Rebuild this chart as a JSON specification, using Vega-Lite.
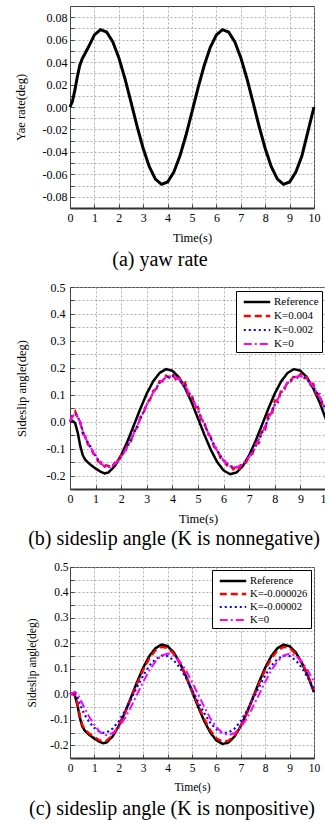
{
"$schema": "https://vega.github.io/schema/vega-lite/v6.json",
"background": "white",
"padding": {"left": 13, "top": 5, "right": 0, "bottom": 0},
"spacing": 10,
"resolve": {"scale": {"color": "independent", "strokeDash": "independent", "strokeWidth": "independent", "x": "independent", "y": "independent"}, "legend": {"color": "independent", "strokeDash": "independent"}},
"config": {
 "font": "Liberation Serif",
 "view": {"stroke": "#444", "strokeWidth": 1},
 "axis": {"labelFont": "Liberation Serif", "labelFontSize": 12, "labelColor": "black", "titleFont": "Liberation Serif", "titleFontSize": 12.5, "titleFontWeight": "normal", "titleColor": "black", "gridColor": "#999", "gridDash": [2, 2], "gridWidth": 0.8, "domainColor": "#444", "tickColor": "#444", "tickSize": -4, "labelFlush": false, "labelOverlap": false},
 "title": {"font": "Liberation Serif", "fontSize": 20, "fontWeight": "normal", "color": "black"},
 "legend": {"orient": "top-right", "offset": 4, "strokeColor": "black", "strokeWidth": 1, "fillColor": "white", "padding": 3, "labelFont": "Liberation Serif", "labelFontSize": 11, "labelColor": "black", "symbolType": "M-2,0H2", "symbolSize": 175, "symbolStrokeWidth": 2, "symbolOffset": 10, "rowPadding": 1, "labelOffset": 9, "cornerRadius": 0}
},
"datasets": {
 "a": [
  {"t":0,"v":0},{"t":0.1,"v":0.005},{"t":0.2,"v":0.015},{"t":0.3,"v":0.027},{"t":0.4,"v":0.037},{"t":0.5,"v":0.043},{"t":0.6,"v":0.047},{"t":0.75,"v":0.0532},{"t":1,"v":0.0642},{"t":1.25,"v":0.0689},{"t":1.5,"v":0.0668},{"t":1.75,"v":0.0583},{"t":2,"v":0.044},{"t":2.25,"v":0.0254},{"t":2.5,"v":0.0043},{"t":2.75,"v":-0.0172},{"t":3,"v":-0.037},{"t":3.25,"v":-0.0532},{"t":3.5,"v":-0.0642},{"t":3.75,"v":-0.0689},{"t":4,"v":-0.0668},{"t":4.25,"v":-0.0583},{"t":4.5,"v":-0.044},{"t":4.75,"v":-0.0254},{"t":5,"v":-0.0043},{"t":5.25,"v":0.0172},{"t":5.5,"v":0.037},{"t":5.75,"v":0.0532},{"t":6,"v":0.0642},{"t":6.25,"v":0.0689},{"t":6.5,"v":0.0668},{"t":6.75,"v":0.0583},{"t":7,"v":0.044},{"t":7.25,"v":0.0254},{"t":7.5,"v":0.0043},{"t":7.75,"v":-0.0172},{"t":8,"v":-0.037},{"t":8.25,"v":-0.0532},{"t":8.5,"v":-0.0642},{"t":8.75,"v":-0.0689},{"t":9,"v":-0.0668},{"t":9.25,"v":-0.0583},{"t":9.5,"v":-0.044},{"t":9.75,"v":-0.022},{"t":10,"v":0}
 ],
 "b": [
  {"t":0,"v":0,"s":"Reference"},{"t":0.1,"v":0.003,"s":"Reference"},{"t":0.2,"v":-0.005,"s":"Reference"},{"t":0.3,"v":-0.04,"s":"Reference"},{"t":0.4,"v":-0.09,"s":"Reference"},{"t":0.5,"v":-0.125,"s":"Reference"},{"t":0.6,"v":-0.142,"s":"Reference"},{"t":0.8,"v":-0.16,"s":"Reference"},{"t":1,"v":-0.174,"s":"Reference"},{"t":1.2,"v":-0.186,"s":"Reference"},{"t":1.35,"v":-0.192,"s":"Reference"},{"t":1.5,"v":-0.189,"s":"Reference"},{"t":1.75,"v":-0.165,"s":"Reference"},{"t":2,"v":-0.124,"s":"Reference"},{"t":2.25,"v":-0.072,"s":"Reference"},{"t":2.5,"v":-0.012,"s":"Reference"},{"t":2.75,"v":0.0485,"s":"Reference"},{"t":3,"v":0.1045,"s":"Reference"},{"t":3.25,"v":0.15,"s":"Reference"},{"t":3.5,"v":0.181,"s":"Reference"},{"t":3.75,"v":0.195,"s":"Reference"},{"t":4,"v":0.189,"s":"Reference"},{"t":4.25,"v":0.165,"s":"Reference"},{"t":4.5,"v":0.124,"s":"Reference"},{"t":4.75,"v":0.072,"s":"Reference"},{"t":5,"v":0.012,"s":"Reference"},{"t":5.25,"v":-0.0485,"s":"Reference"},{"t":5.5,"v":-0.1045,"s":"Reference"},{"t":5.75,"v":-0.15,"s":"Reference"},{"t":6,"v":-0.181,"s":"Reference"},{"t":6.25,"v":-0.195,"s":"Reference"},{"t":6.5,"v":-0.189,"s":"Reference"},{"t":6.75,"v":-0.165,"s":"Reference"},{"t":7,"v":-0.124,"s":"Reference"},{"t":7.25,"v":-0.072,"s":"Reference"},{"t":7.5,"v":-0.012,"s":"Reference"},{"t":7.75,"v":0.0485,"s":"Reference"},{"t":8,"v":0.1045,"s":"Reference"},{"t":8.25,"v":0.15,"s":"Reference"},{"t":8.5,"v":0.181,"s":"Reference"},{"t":8.75,"v":0.195,"s":"Reference"},{"t":9,"v":0.189,"s":"Reference"},{"t":9.25,"v":0.165,"s":"Reference"},{"t":9.5,"v":0.124,"s":"Reference"},{"t":9.75,"v":0.072,"s":"Reference"},{"t":10,"v":0.008,"s":"Reference"},
  {"t":0,"v":0,"s":"K=0.004"},{"t":0.1,"v":0.025,"s":"K=0.004"},{"t":0.2,"v":0.038,"s":"K=0.004"},{"t":0.3,"v":0.015,"s":"K=0.004"},{"t":0.4,"v":0,"s":"K=0.004"},{"t":0.5,"v":-0.045,"s":"K=0.004"},{"t":0.6,"v":-0.055,"s":"K=0.004"},{"t":0.7,"v":-0.085,"s":"K=0.004"},{"t":0.8,"v":-0.092,"s":"K=0.004"},{"t":0.9,"v":-0.118,"s":"K=0.004"},{"t":1,"v":-0.125,"s":"K=0.004"},{"t":1.1,"v":-0.148,"s":"K=0.004"},{"t":1.2,"v":-0.15,"s":"K=0.004"},{"t":1.3,"v":-0.17,"s":"K=0.004"},{"t":1.4,"v":-0.162,"s":"K=0.004"},{"t":1.5,"v":-0.164,"s":"K=0.004"},{"t":1.625,"v":-0.172,"s":"K=0.004"},{"t":1.75,"v":-0.152,"s":"K=0.004"},{"t":1.875,"v":-0.152,"s":"K=0.004"},{"t":2,"v":-0.125,"s":"K=0.004"},{"t":2.125,"v":-0.118,"s":"K=0.004"},{"t":2.25,"v":-0.085,"s":"K=0.004"},{"t":2.375,"v":-0.074,"s":"K=0.004"},{"t":2.5,"v":-0.036,"s":"K=0.004"},{"t":2.625,"v":-0.022,"s":"K=0.004"},{"t":2.75,"v":0.017,"s":"K=0.004"},{"t":2.875,"v":0.031,"s":"K=0.004"},{"t":3,"v":0.069,"s":"K=0.004"},{"t":3.125,"v":0.081,"s":"K=0.004"},{"t":3.25,"v":0.114,"s":"K=0.004"},{"t":3.375,"v":0.122,"s":"K=0.004"},{"t":3.5,"v":0.15,"s":"K=0.004"},{"t":3.625,"v":0.15,"s":"K=0.004"},{"t":3.75,"v":0.171,"s":"K=0.004"},{"t":3.875,"v":0.163,"s":"K=0.004"},{"t":4,"v":0.178,"s":"K=0.004"},{"t":4.125,"v":0.158,"s":"K=0.004"},{"t":4.25,"v":0.17,"s":"K=0.004"},{"t":4.375,"v":0.134,"s":"K=0.004"},{"t":4.5,"v":0.145,"s":"K=0.004"},{"t":4.625,"v":0.098,"s":"K=0.004"},{"t":4.75,"v":0.105,"s":"K=0.004"},{"t":4.875,"v":0.054,"s":"K=0.004"},{"t":5,"v":0.054,"s":"K=0.004"},{"t":5.125,"v":0.006,"s":"K=0.004"},{"t":5.25,"v":-0.003,"s":"K=0.004"},{"t":5.375,"v":-0.043,"s":"K=0.004"},{"t":5.5,"v":-0.057,"s":"K=0.004"},{"t":5.625,"v":-0.093,"s":"K=0.004"},{"t":5.75,"v":-0.102,"s":"K=0.004"},{"t":5.875,"v":-0.134,"s":"K=0.004"},{"t":6,"v":-0.138,"s":"K=0.004"},{"t":6.125,"v":-0.162,"s":"K=0.004"},{"t":6.25,"v":-0.159,"s":"K=0.004"},{"t":6.375,"v":-0.177,"s":"K=0.004"},{"t":6.5,"v":-0.162,"s":"K=0.004"},{"t":6.625,"v":-0.174,"s":"K=0.004"},{"t":6.75,"v":-0.152,"s":"K=0.004"},{"t":6.875,"v":-0.152,"s":"K=0.004"},{"t":7,"v":-0.125,"s":"K=0.004"},{"t":7.125,"v":-0.12,"s":"K=0.004"},{"t":7.25,"v":-0.081,"s":"K=0.004"},{"t":7.375,"v":-0.08,"s":"K=0.004"},{"t":7.5,"v":-0.028,"s":"K=0.004"},{"t":7.625,"v":-0.03,"s":"K=0.004"},{"t":7.75,"v":0.027,"s":"K=0.004"},{"t":7.875,"v":0.021,"s":"K=0.004"},{"t":8,"v":0.079,"s":"K=0.004"},{"t":8.125,"v":0.073,"s":"K=0.004"},{"t":8.25,"v":0.118,"s":"K=0.004"},{"t":8.375,"v":0.12,"s":"K=0.004"},{"t":8.5,"v":0.15,"s":"K=0.004"},{"t":8.625,"v":0.15,"s":"K=0.004"},{"t":8.75,"v":0.171,"s":"K=0.004"},{"t":8.875,"v":0.163,"s":"K=0.004"},{"t":9,"v":0.176,"s":"K=0.004"},{"t":9.125,"v":0.16,"s":"K=0.004"},{"t":9.25,"v":0.166,"s":"K=0.004"},{"t":9.375,"v":0.138,"s":"K=0.004"},{"t":9.5,"v":0.141,"s":"K=0.004"},{"t":9.625,"v":0.102,"s":"K=0.004"},{"t":9.75,"v":0.103,"s":"K=0.004"},{"t":9.875,"v":0.056,"s":"K=0.004"},{"t":10,"v":0.052,"s":"K=0.004"},
  {"t":0,"v":0,"s":"K=0.002"},{"t":0.1,"v":0.02,"s":"K=0.002"},{"t":0.2,"v":0.03,"s":"K=0.002"},{"t":0.3,"v":0.02,"s":"K=0.002"},{"t":0.4,"v":-0.005,"s":"K=0.002"},{"t":0.5,"v":-0.035,"s":"K=0.002"},{"t":0.6,"v":-0.06,"s":"K=0.002"},{"t":0.8,"v":-0.095,"s":"K=0.002"},{"t":1,"v":-0.128,"s":"K=0.002"},{"t":1.2,"v":-0.155,"s":"K=0.002"},{"t":1.35,"v":-0.166,"s":"K=0.002"},{"t":1.5,"v":-0.17,"s":"K=0.002"},{"t":1.75,"v":-0.158,"s":"K=0.002"},{"t":2,"v":-0.131,"s":"K=0.002"},{"t":2.25,"v":-0.091,"s":"K=0.002"},{"t":2.5,"v":-0.042,"s":"K=0.002"},{"t":2.75,"v":0.011,"s":"K=0.002"},{"t":3,"v":0.063,"s":"K=0.002"},{"t":3.25,"v":0.108,"s":"K=0.002"},{"t":3.5,"v":0.144,"s":"K=0.002"},{"t":3.75,"v":0.165,"s":"K=0.002"},{"t":4,"v":0.17,"s":"K=0.002"},{"t":4.25,"v":0.158,"s":"K=0.002"},{"t":4.5,"v":0.131,"s":"K=0.002"},{"t":4.75,"v":0.091,"s":"K=0.002"},{"t":5,"v":0.042,"s":"K=0.002"},{"t":5.25,"v":-0.011,"s":"K=0.002"},{"t":5.5,"v":-0.063,"s":"K=0.002"},{"t":5.75,"v":-0.108,"s":"K=0.002"},{"t":6,"v":-0.144,"s":"K=0.002"},{"t":6.25,"v":-0.165,"s":"K=0.002"},{"t":6.5,"v":-0.17,"s":"K=0.002"},{"t":6.75,"v":-0.158,"s":"K=0.002"},{"t":7,"v":-0.131,"s":"K=0.002"},{"t":7.25,"v":-0.091,"s":"K=0.002"},{"t":7.5,"v":-0.042,"s":"K=0.002"},{"t":7.75,"v":0.011,"s":"K=0.002"},{"t":8,"v":0.063,"s":"K=0.002"},{"t":8.25,"v":0.108,"s":"K=0.002"},{"t":8.5,"v":0.144,"s":"K=0.002"},{"t":8.75,"v":0.165,"s":"K=0.002"},{"t":9,"v":0.17,"s":"K=0.002"},{"t":9.25,"v":0.158,"s":"K=0.002"},{"t":9.5,"v":0.131,"s":"K=0.002"},{"t":9.75,"v":0.091,"s":"K=0.002"},{"t":10,"v":0.042,"s":"K=0.002"},
  {"t":0,"v":0,"s":"K=0"},{"t":0.1,"v":0.02,"s":"K=0"},{"t":0.2,"v":0.03,"s":"K=0"},{"t":0.3,"v":0.02,"s":"K=0"},{"t":0.4,"v":-0.005,"s":"K=0"},{"t":0.5,"v":-0.035,"s":"K=0"},{"t":0.6,"v":-0.06,"s":"K=0"},{"t":0.8,"v":-0.095,"s":"K=0"},{"t":1,"v":-0.128,"s":"K=0"},{"t":1.2,"v":-0.155,"s":"K=0"},{"t":1.35,"v":-0.166,"s":"K=0"},{"t":1.5,"v":-0.17,"s":"K=0"},{"t":1.75,"v":-0.158,"s":"K=0"},{"t":2,"v":-0.131,"s":"K=0"},{"t":2.25,"v":-0.091,"s":"K=0"},{"t":2.5,"v":-0.042,"s":"K=0"},{"t":2.75,"v":0.011,"s":"K=0"},{"t":3,"v":0.063,"s":"K=0"},{"t":3.25,"v":0.108,"s":"K=0"},{"t":3.5,"v":0.144,"s":"K=0"},{"t":3.75,"v":0.165,"s":"K=0"},{"t":4,"v":0.17,"s":"K=0"},{"t":4.25,"v":0.158,"s":"K=0"},{"t":4.5,"v":0.131,"s":"K=0"},{"t":4.75,"v":0.091,"s":"K=0"},{"t":5,"v":0.042,"s":"K=0"},{"t":5.25,"v":-0.011,"s":"K=0"},{"t":5.5,"v":-0.063,"s":"K=0"},{"t":5.75,"v":-0.108,"s":"K=0"},{"t":6,"v":-0.144,"s":"K=0"},{"t":6.25,"v":-0.165,"s":"K=0"},{"t":6.5,"v":-0.17,"s":"K=0"},{"t":6.75,"v":-0.158,"s":"K=0"},{"t":7,"v":-0.131,"s":"K=0"},{"t":7.25,"v":-0.091,"s":"K=0"},{"t":7.5,"v":-0.042,"s":"K=0"},{"t":7.75,"v":0.011,"s":"K=0"},{"t":8,"v":0.063,"s":"K=0"},{"t":8.25,"v":0.108,"s":"K=0"},{"t":8.5,"v":0.144,"s":"K=0"},{"t":8.75,"v":0.165,"s":"K=0"},{"t":9,"v":0.17,"s":"K=0"},{"t":9.25,"v":0.158,"s":"K=0"},{"t":9.5,"v":0.131,"s":"K=0"},{"t":9.75,"v":0.091,"s":"K=0"},{"t":10,"v":0.042,"s":"K=0"}
 ],
 "c": [
  {"t":0,"v":0,"s":"Reference"},{"t":0.1,"v":0.003,"s":"Reference"},{"t":0.2,"v":-0.005,"s":"Reference"},{"t":0.3,"v":-0.04,"s":"Reference"},{"t":0.4,"v":-0.09,"s":"Reference"},{"t":0.5,"v":-0.125,"s":"Reference"},{"t":0.6,"v":-0.142,"s":"Reference"},{"t":0.8,"v":-0.16,"s":"Reference"},{"t":1,"v":-0.174,"s":"Reference"},{"t":1.2,"v":-0.186,"s":"Reference"},{"t":1.35,"v":-0.192,"s":"Reference"},{"t":1.5,"v":-0.189,"s":"Reference"},{"t":1.75,"v":-0.165,"s":"Reference"},{"t":2,"v":-0.124,"s":"Reference"},{"t":2.25,"v":-0.072,"s":"Reference"},{"t":2.5,"v":-0.012,"s":"Reference"},{"t":2.75,"v":0.0485,"s":"Reference"},{"t":3,"v":0.1045,"s":"Reference"},{"t":3.25,"v":0.15,"s":"Reference"},{"t":3.5,"v":0.181,"s":"Reference"},{"t":3.75,"v":0.195,"s":"Reference"},{"t":4,"v":0.189,"s":"Reference"},{"t":4.25,"v":0.165,"s":"Reference"},{"t":4.5,"v":0.124,"s":"Reference"},{"t":4.75,"v":0.072,"s":"Reference"},{"t":5,"v":0.012,"s":"Reference"},{"t":5.25,"v":-0.0485,"s":"Reference"},{"t":5.5,"v":-0.1045,"s":"Reference"},{"t":5.75,"v":-0.15,"s":"Reference"},{"t":6,"v":-0.181,"s":"Reference"},{"t":6.25,"v":-0.195,"s":"Reference"},{"t":6.5,"v":-0.189,"s":"Reference"},{"t":6.75,"v":-0.165,"s":"Reference"},{"t":7,"v":-0.124,"s":"Reference"},{"t":7.25,"v":-0.072,"s":"Reference"},{"t":7.5,"v":-0.012,"s":"Reference"},{"t":7.75,"v":0.0485,"s":"Reference"},{"t":8,"v":0.1045,"s":"Reference"},{"t":8.25,"v":0.15,"s":"Reference"},{"t":8.5,"v":0.181,"s":"Reference"},{"t":8.75,"v":0.195,"s":"Reference"},{"t":9,"v":0.189,"s":"Reference"},{"t":9.25,"v":0.165,"s":"Reference"},{"t":9.5,"v":0.124,"s":"Reference"},{"t":9.75,"v":0.072,"s":"Reference"},{"t":10,"v":0.008,"s":"Reference"},
  {"t":0,"v":0,"s":"K=-0.000026"},{"t":0.1,"v":0.004,"s":"K=-0.000026"},{"t":0.2,"v":-0.003,"s":"K=-0.000026"},{"t":0.3,"v":-0.035,"s":"K=-0.000026"},{"t":0.4,"v":-0.08,"s":"K=-0.000026"},{"t":0.5,"v":-0.118,"s":"K=-0.000026"},{"t":0.6,"v":-0.138,"s":"K=-0.000026"},{"t":0.8,"v":-0.155,"s":"K=-0.000026"},{"t":1,"v":-0.168,"s":"K=-0.000026"},{"t":1.2,"v":-0.18,"s":"K=-0.000026"},{"t":1.35,"v":-0.185,"s":"K=-0.000026"},{"t":1.5,"v":-0.182,"s":"K=-0.000026"},{"t":1.75,"v":-0.16,"s":"K=-0.000026"},{"t":2,"v":-0.123,"s":"K=-0.000026"},{"t":2.25,"v":-0.073,"s":"K=-0.000026"},{"t":2.5,"v":-0.016,"s":"K=-0.000026"},{"t":2.75,"v":0.042,"s":"K=-0.000026"},{"t":3,"v":0.096,"s":"K=-0.000026"},{"t":3.25,"v":0.141,"s":"K=-0.000026"},{"t":3.5,"v":0.172,"s":"K=-0.000026"},{"t":3.75,"v":0.186,"s":"K=-0.000026"},{"t":4,"v":0.182,"s":"K=-0.000026"},{"t":4.25,"v":0.16,"s":"K=-0.000026"},{"t":4.5,"v":0.123,"s":"K=-0.000026"},{"t":4.75,"v":0.073,"s":"K=-0.000026"},{"t":5,"v":0.016,"s":"K=-0.000026"},{"t":5.25,"v":-0.042,"s":"K=-0.000026"},{"t":5.5,"v":-0.096,"s":"K=-0.000026"},{"t":5.75,"v":-0.141,"s":"K=-0.000026"},{"t":6,"v":-0.172,"s":"K=-0.000026"},{"t":6.25,"v":-0.186,"s":"K=-0.000026"},{"t":6.5,"v":-0.182,"s":"K=-0.000026"},{"t":6.75,"v":-0.16,"s":"K=-0.000026"},{"t":7,"v":-0.123,"s":"K=-0.000026"},{"t":7.25,"v":-0.073,"s":"K=-0.000026"},{"t":7.5,"v":-0.016,"s":"K=-0.000026"},{"t":7.75,"v":0.042,"s":"K=-0.000026"},{"t":8,"v":0.096,"s":"K=-0.000026"},{"t":8.25,"v":0.141,"s":"K=-0.000026"},{"t":8.5,"v":0.172,"s":"K=-0.000026"},{"t":8.75,"v":0.186,"s":"K=-0.000026"},{"t":9,"v":0.182,"s":"K=-0.000026"},{"t":9.25,"v":0.16,"s":"K=-0.000026"},{"t":9.5,"v":0.123,"s":"K=-0.000026"},{"t":9.75,"v":0.073,"s":"K=-0.000026"},{"t":10,"v":0.016,"s":"K=-0.000026"},
  {"t":0,"v":0,"s":"K=-0.00002"},{"t":0.1,"v":0.004,"s":"K=-0.00002"},{"t":0.2,"v":0.006,"s":"K=-0.00002"},{"t":0.3,"v":-0.01,"s":"K=-0.00002"},{"t":0.4,"v":-0.035,"s":"K=-0.00002"},{"t":0.5,"v":-0.06,"s":"K=-0.00002"},{"t":0.6,"v":-0.08,"s":"K=-0.00002"},{"t":0.8,"v":-0.11,"s":"K=-0.00002"},{"t":1,"v":-0.132,"s":"K=-0.00002"},{"t":1.2,"v":-0.146,"s":"K=-0.00002"},{"t":1.35,"v":-0.151,"s":"K=-0.00002"},{"t":1.5,"v":-0.15,"s":"K=-0.00002"},{"t":1.75,"v":-0.134,"s":"K=-0.00002"},{"t":2,"v":-0.105,"s":"K=-0.00002"},{"t":2.25,"v":-0.065,"s":"K=-0.00002"},{"t":2.5,"v":-0.019,"s":"K=-0.00002"},{"t":2.75,"v":0.029,"s":"K=-0.00002"},{"t":3,"v":0.074,"s":"K=-0.00002"},{"t":3.25,"v":0.112,"s":"K=-0.00002"},{"t":3.5,"v":0.138,"s":"K=-0.00002"},{"t":3.75,"v":0.152,"s":"K=-0.00002"},{"t":4,"v":0.15,"s":"K=-0.00002"},{"t":4.25,"v":0.134,"s":"K=-0.00002"},{"t":4.5,"v":0.105,"s":"K=-0.00002"},{"t":4.75,"v":0.065,"s":"K=-0.00002"},{"t":5,"v":0.019,"s":"K=-0.00002"},{"t":5.25,"v":-0.029,"s":"K=-0.00002"},{"t":5.5,"v":-0.074,"s":"K=-0.00002"},{"t":5.75,"v":-0.112,"s":"K=-0.00002"},{"t":6,"v":-0.138,"s":"K=-0.00002"},{"t":6.25,"v":-0.152,"s":"K=-0.00002"},{"t":6.5,"v":-0.15,"s":"K=-0.00002"},{"t":6.75,"v":-0.134,"s":"K=-0.00002"},{"t":7,"v":-0.105,"s":"K=-0.00002"},{"t":7.25,"v":-0.065,"s":"K=-0.00002"},{"t":7.5,"v":-0.019,"s":"K=-0.00002"},{"t":7.75,"v":0.029,"s":"K=-0.00002"},{"t":8,"v":0.074,"s":"K=-0.00002"},{"t":8.25,"v":0.112,"s":"K=-0.00002"},{"t":8.5,"v":0.138,"s":"K=-0.00002"},{"t":8.75,"v":0.152,"s":"K=-0.00002"},{"t":9,"v":0.15,"s":"K=-0.00002"},{"t":9.25,"v":0.134,"s":"K=-0.00002"},{"t":9.5,"v":0.105,"s":"K=-0.00002"},{"t":9.75,"v":0.065,"s":"K=-0.00002"},{"t":10,"v":0.019,"s":"K=-0.00002"},
  {"t":0,"v":0,"s":"K=0"},{"t":0.1,"v":0.006,"s":"K=0"},{"t":0.2,"v":0.01,"s":"K=0"},{"t":0.3,"v":0.003,"s":"K=0"},{"t":0.4,"v":-0.015,"s":"K=0"},{"t":0.5,"v":-0.035,"s":"K=0"},{"t":0.6,"v":-0.055,"s":"K=0"},{"t":0.8,"v":-0.09,"s":"K=0"},{"t":1,"v":-0.12,"s":"K=0"},{"t":1.2,"v":-0.145,"s":"K=0"},{"t":1.35,"v":-0.156,"s":"K=0"},{"t":1.5,"v":-0.16,"s":"K=0"},{"t":1.75,"v":-0.152,"s":"K=0"},{"t":2,"v":-0.129,"s":"K=0"},{"t":2.25,"v":-0.094,"s":"K=0"},{"t":2.5,"v":-0.049,"s":"K=0"},{"t":2.75,"v":0,"s":"K=0"},{"t":3,"v":0.049,"s":"K=0"},{"t":3.25,"v":0.094,"s":"K=0"},{"t":3.5,"v":0.129,"s":"K=0"},{"t":3.75,"v":0.152,"s":"K=0"},{"t":4,"v":0.16,"s":"K=0"},{"t":4.25,"v":0.152,"s":"K=0"},{"t":4.5,"v":0.129,"s":"K=0"},{"t":4.75,"v":0.094,"s":"K=0"},{"t":5,"v":0.049,"s":"K=0"},{"t":5.25,"v":0,"s":"K=0"},{"t":5.5,"v":-0.049,"s":"K=0"},{"t":5.75,"v":-0.094,"s":"K=0"},{"t":6,"v":-0.129,"s":"K=0"},{"t":6.25,"v":-0.152,"s":"K=0"},{"t":6.5,"v":-0.16,"s":"K=0"},{"t":6.75,"v":-0.152,"s":"K=0"},{"t":7,"v":-0.129,"s":"K=0"},{"t":7.25,"v":-0.094,"s":"K=0"},{"t":7.5,"v":-0.049,"s":"K=0"},{"t":7.75,"v":0,"s":"K=0"},{"t":8,"v":0.049,"s":"K=0"},{"t":8.25,"v":0.094,"s":"K=0"},{"t":8.5,"v":0.129,"s":"K=0"},{"t":8.75,"v":0.152,"s":"K=0"},{"t":9,"v":0.16,"s":"K=0"},{"t":9.25,"v":0.152,"s":"K=0"},{"t":9.5,"v":0.129,"s":"K=0"},{"t":9.75,"v":0.094,"s":"K=0"},{"t":10,"v":0.049,"s":"K=0"}
 ]
},
"vconcat": [
 {
  "width": 244, "height": 202,
  "data": {"name": "a"},
  "title": {"text": "(a) yaw rate", "orient": "bottom", "anchor": "middle", "frame": "group", "dx": -32, "offset": 6},
  "mark": {"type": "line", "color": "black", "strokeWidth": 3},
  "encoding": {
   "x": {"field": "t", "type": "quantitative", "scale": {"domain": [0, 10], "nice": false}, "axis": {"title": "Time(s)", "values": [0,1,2,3,4,5,6,7,8,9,10], "format": "d", "labelPadding": 8, "titlePadding": 8, "domainColor": "#333", "domainWidth": 2}},
   "y": {"field": "v", "type": "quantitative", "scale": {"domain": [-0.09, 0.09], "nice": false, "zero": false}, "axis": {"title": "Yae rate(deg)", "values": [-0.08,-0.07,-0.06,-0.05,-0.04,-0.03,-0.02,-0.01,0,0.01,0.02,0.03,0.04,0.05,0.06,0.07,0.08], "format": ".2f", "labelExpr": "abs(round(datum.value*100)) % 2 == 0 ? replace(datum.label, '−', '-') : ''", "labelPadding": 7, "titlePadding": 15}}
  }
 },
 {
  "width": 256, "height": 202,
  "data": {"name": "b"},
  "title": {"text": "(b) sideslip angle (K is nonnegative)", "orient": "bottom", "anchor": "middle", "frame": "group", "dx": -24, "offset": 4.5},
  "mark": {"type": "line"},
  "encoding": {
   "x": {"field": "t", "type": "quantitative", "scale": {"domain": [0, 10], "nice": false}, "axis": {"title": "Time(s)", "values": [0,1,2,3,4,5,6,7,8,9,10], "format": "d", "labelPadding": 8, "titlePadding": 8, "domainColor": "#333", "domainWidth": 2}},
   "y": {"field": "v", "type": "quantitative", "scale": {"domain": [-0.25, 0.5], "nice": false, "zero": false}, "axis": {"title": "Sideslip angle(deg)", "values": [-0.25,-0.2,-0.15,-0.1,-0.05,0,0.05,0.1,0.15,0.2,0.25,0.3,0.35,0.4,0.45,0.5], "format": ".1f", "labelExpr": "abs(round(datum.value*100)) % 10 == 0 ? replace(datum.label, '−', '-') : ''", "labelPadding": 9, "titlePadding": 18}},
   "color": {"field": "s", "type": "nominal", "scale": {"domain": ["Reference", "K=0.004", "K=0.002", "K=0"], "range": ["black", "red", "blue", "magenta"]}, "legend": {"title": null}},
   "strokeDash": {"field": "s", "type": "nominal", "scale": {"domain": ["Reference", "K=0.004", "K=0.002", "K=0"], "range": [[1, 0], [7, 4], [2, 3], [8, 3, 2, 3]]}, "legend": {"title": null}},
   "strokeWidth": {"field": "s", "type": "nominal", "scale": {"domain": ["Reference", "K=0.004", "K=0.002", "K=0"], "range": [2.5, 2, 1.8, 1.8]}, "legend": null}
  }
 },
 {
  "width": 244, "height": 191,
  "data": {"name": "c"},
  "title": {"text": "(c) sideslip angle (K is nonpositive)", "orient": "bottom", "anchor": "middle", "frame": "group", "dx": -20, "offset": 6},
  "mark": {"type": "line"},
  "encoding": {
   "x": {"field": "t", "type": "quantitative", "scale": {"domain": [0, 10], "nice": false}, "axis": {"title": "Time(s)", "values": [0,1,2,3,4,5,6,7,8,9,10], "format": "d", "labelPadding": 8, "titlePadding": 8, "labelFontSize": 11.5, "titleFontSize": 11.5, "domainColor": "#333", "domainWidth": 2}},
   "y": {"field": "v", "type": "quantitative", "scale": {"domain": [-0.25, 0.5], "nice": false, "zero": false}, "axis": {"title": "Sideslip angle(deg)", "values": [-0.25,-0.2,-0.15,-0.1,-0.05,0,0.05,0.1,0.15,0.2,0.25,0.3,0.35,0.4,0.45,0.5], "format": ".1f", "labelExpr": "abs(round(datum.value*100)) % 10 == 0 ? replace(datum.label, '−', '-') : ''", "labelPadding": 6, "titlePadding": 12, "labelFontSize": 11.5, "titleFontSize": 11.5}},
   "color": {"field": "s", "type": "nominal", "scale": {"domain": ["Reference", "K=-0.000026", "K=-0.00002", "K=0"], "range": ["black", "red", "blue", "magenta"]}, "legend": {"title": null, "labelFontSize": 10.7, "offset": 3, "rowPadding": 0}},
   "strokeDash": {"field": "s", "type": "nominal", "scale": {"domain": ["Reference", "K=-0.000026", "K=-0.00002", "K=0"], "range": [[1, 0], [7, 4], [2, 3], [8, 3, 2, 3]]}, "legend": {"title": null, "labelFontSize": 10.7, "offset": 3, "rowPadding": 0}},
   "strokeWidth": {"field": "s", "type": "nominal", "scale": {"domain": ["Reference", "K=-0.000026", "K=-0.00002", "K=0"], "range": [2.5, 2, 1.8, 1.8]}, "legend": null}
  }
 }
]
}
